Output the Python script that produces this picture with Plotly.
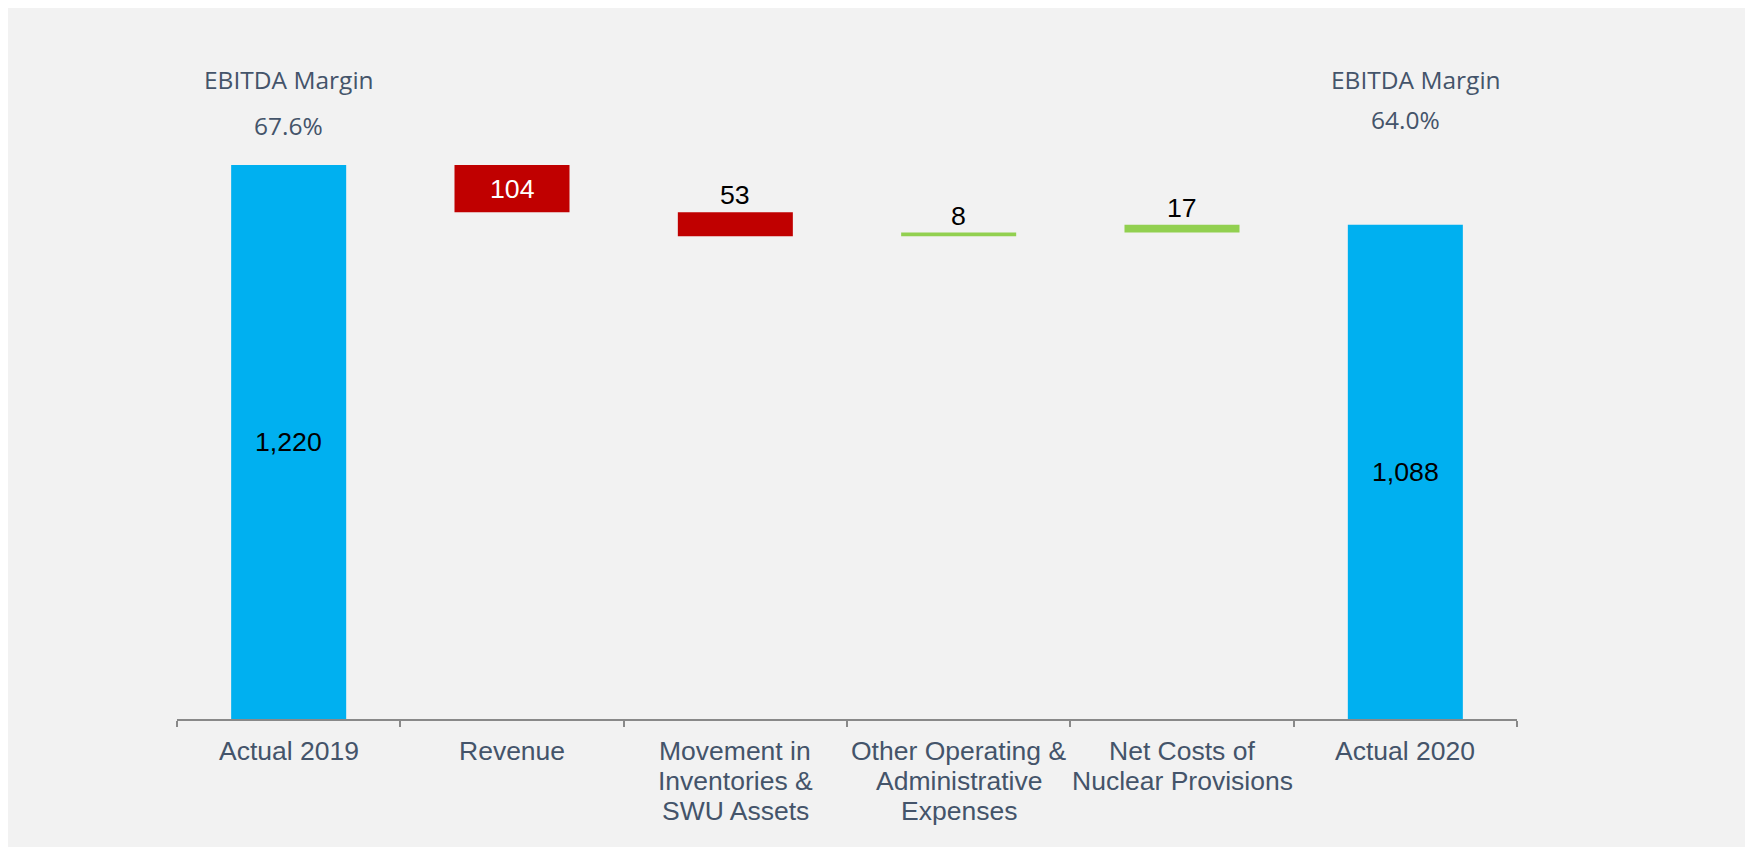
import plotly.graph_objects as go

# ---------------- data ----------------
categories = ["Actual 2019", "Revenue", "Movement in Inventories & SWU Assets",
              "Other Operating & Administrative Expenses", "Net Costs of Nuclear Provisions",
              "Actual 2020"]
tick_labels = ["Actual 2019", "Revenue", "Movement in<br>Inventories &<br>SWU Assets",
               "Other Operating &<br>Administrative<br>Expenses", "Net Costs of<br>Nuclear Provisions",
               "Actual 2020"]
measures = ["absolute", "relative", "relative", "relative", "relative", "total"]
values = [1220, -104, -53, 8, 17, 1088]
label_values = [1220, 104, 53, 8, 17, 1088]
label_places = ["inside", "inside", "above", "above", "above", "inside"]
margin_cats = ["Actual 2019", "Actual 2020"]
margin_values = ["67.6%", "64.0%"]

# ---------------- style ----------------
BLUE = "#00B0F0"
RED = "#C00000"
GREEN = "#92D050"
TEXT = "#44546A"
AXIS = "#898989"
PANEL = "#F2F2F2"

OFF = 8  # page body margin
W, H = 1737, 839
ML = 177 - OFF
MR = W - (1517 - OFF)
MT = 40 - OFF
MB = H - (719 - OFF)
YMAX = 1495

fig = go.Figure()
fig.add_trace(go.Waterfall(
    x=categories,
    y=values,
    measure=measures,
    width=0.515,
    increasing=dict(marker=dict(color=GREEN)),
    decreasing=dict(marker=dict(color=RED)),
    totals=dict(marker=dict(color=BLUE)),
    connector=dict(visible=False),
    textposition="none",
    hoverinfo="skip",
    showlegend=False,
))

annotations = []
cum = 0
for cat, m, v, lv, place in zip(categories, measures, values, label_values, label_places):
    if m == "absolute":
        start, end = 0, v
        cum = v
    elif m == "relative":
        start, end = cum, cum + v
        cum = cum + v
    else:
        start, end = 0, cum
    if place == "inside":
        color = "white" if (m == "relative" and v < 0) else "black"
        annotations.append(dict(x=cat, y=(start + end) / 2, xref="x", yref="y",
                                text=f"{lv:,}", showarrow=False, yanchor="middle",
                                font=dict(family="Liberation Sans, Arial", size=26.7, color=color)))
    else:
        annotations.append(dict(x=cat, y=max(start, end), xref="x", yref="y",
                                text=f"{lv:,}", showarrow=False, yanchor="middle", yshift=17,
                                font=dict(family="Liberation Sans, Arial", size=26.7, color="black")))

plot_h = H - MT - MB
def py_to_paper(py):  # py in page pixels
    return (H - MB - (py - OFF)) / plot_h

for i, (cat, mv) in enumerate(zip(margin_cats, margin_values)):
    annotations.append(dict(x=cat, y=py_to_paper(79.5), xref="x", yref="paper",
                            text="EBITDA Margin", showarrow=False, yanchor="middle",
                            xshift=(0 if i == 0 else 11),
                            font=dict(family="Open Sans", size=24.5, color=TEXT)))
    annotations.append(dict(x=cat, y=py_to_paper(125.5 if i == 0 else 119.5), xref="x", yref="paper",
                            text=mv, showarrow=False, yanchor="middle",
                            font=dict(family="Open Sans", size=24.5, color=TEXT)))

# category labels below the axis, one text line each (tight line spacing as in reference)
for cat, lab in zip(categories, tick_labels):
    for k, line in enumerate(lab.split("<br>")):
        annotations.append(dict(x=cat, y=py_to_paper(751 + 30 * k), xref="x", yref="paper",
                                text=line, showarrow=False, yanchor="middle",
                                font=dict(family="Liberation Sans, Arial", size=26.5, color=TEXT)))

fig.update_layout(
    width=W, height=H,
    margin=dict(l=ML, r=MR, t=MT, b=MB, autoexpand=False),
    paper_bgcolor=PANEL,
    plot_bgcolor=PANEL,
    annotations=annotations,
    xaxis=dict(
        type="category",
        tickvals=categories,
        showticklabels=False,
        range=[-0.5, 5.5],
        tickson="boundaries",
        ticks="outside", ticklen=6, tickwidth=2, tickcolor=AXIS,
        showline=True, linecolor=AXIS, linewidth=2,
        showgrid=False, zeroline=False,
        fixedrange=True,
    ),
    yaxis=dict(visible=False, range=[0, YMAX], showgrid=False, zeroline=False, fixedrange=True),
)

fig.write_html("out.html")
